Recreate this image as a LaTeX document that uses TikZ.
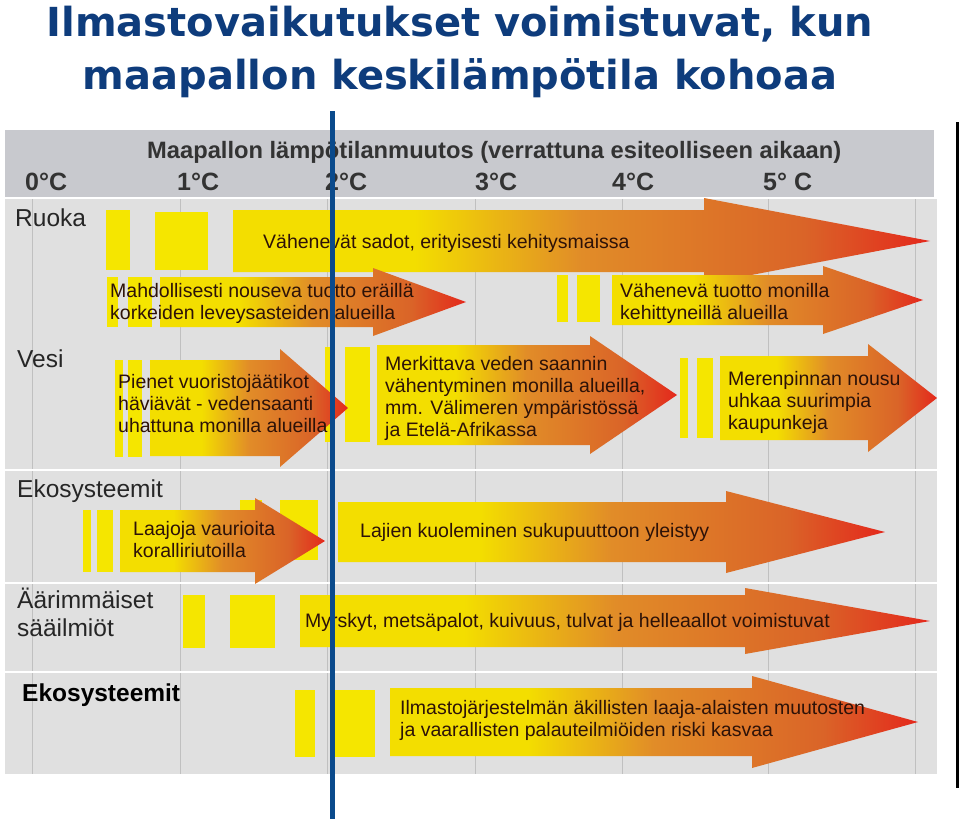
\documentclass[tikz,border=0pt]{standalone}
\usepackage{fontspec}
\setmainfont{Liberation Sans}
\newfontfamily\titlefont{DejaVu Sans}
\usetikzlibrary{positioning}

\definecolor{titleblue}{RGB}{14,60,124}
\definecolor{lineblue}{RGB}{10,74,140}
\definecolor{headgrey}{RGB}{200,201,206}
\definecolor{bodygrey}{RGB}{224,224,224}
\definecolor{gridgrey}{RGB}{192,192,192}
\definecolor{baryellow}{RGB}{245,230,0}
\definecolor{heatY}{RGB}{243,222,0}
\definecolor{heatO}{RGB}{225,140,40}
\definecolor{heatOO}{RGB}{218,100,40}
\definecolor{heatR}{RGB}{228,40,28}
\definecolor{arrowtext}{RGB}{45,18,8}

\pgfdeclarehorizontalshading{heat}{100bp}{color(0bp)=(heatY); color(38bp)=(heatY); color(50bp)=(heatO); color(66bp)=(heatOO); color(75bp)=(heatR); color(100bp)=(heatR)}

% arrow: x start, x head, x tip, y centre, half body, half head
\newcommand{\heatarrow}[6]{%
  \shade[shading=heat] (#1,#4-#5) -- (#2,#4-#5) -- (#2,#4-#6) -- (#3,#4)
    -- (#2,#4+#6) -- (#2,#4+#5) -- (#1,#4+#5) -- cycle;}
\newcommand{\ybar}[4]{\fill[baryellow] (#1,#3) rectangle (#2,#4);}

\begin{document}
\begin{tikzpicture}[x=1bp, y=-1bp,
  lbl/.style={inner sep=0pt, anchor=base west, font=\fontsize{24.5bp}{28bp}\selectfont, text=black!85},
  deg/.style={inner sep=0pt, anchor=base west, font=\fontsize{25bp}{28bp}\selectfont\bfseries, text=black!80},
  txt/.style={inner sep=0pt, anchor=north west, align=left, font=\fontsize{19.5bp}{22bp}\selectfont, text=arrowtext}]
\useasboundingbox (0,0) rectangle (960,819);

\node[font=\titlefont\fontsize{40bp}{48bp}\selectfont\bfseries, text=titleblue, anchor=base, inner sep=0pt] (title1) at (460,37) {Ilmastovaikutukset voimistuvat, kun};
\node[font=\titlefont\fontsize{40bp}{48bp}\selectfont\bfseries, text=titleblue, anchor=base, inner sep=0pt] (title2) at (460,90) {maapallon keskilämpötila kohoaa};

\fill[headgrey] (5,130) rectangle (934,197);
\fill[bodygrey] (5,199) rectangle (937,774);
\foreach \gx in {32,180,327,475,622,768,915}
  \draw[gridgrey, line width=0.7bp] (\gx,199) -- (\gx,774);
\foreach \gy in {470,583,672}
  \draw[white, line width=2bp] (5,\gy) -- (937,\gy);

\node[deg, font=\fontsize{23.7bp}{28bp}\selectfont\bfseries] (head) at (147,158) {Maapallon lämpötilanmuutos (verrattuna esiteolliseen aikaan)};
\node[deg] (t0) at (25,190) {0°C};
\node[deg] (t1) at (177,190) {1°C};
\node[deg] (t2) at (325,190) {2°C};
\node[deg] (t3) at (475,190) {3°C};
\node[deg] (t4) at (612,190) {4°C};
\node[deg] (t5) at (763,190) {5° C};

\node[lbl] (ruoka) at (15,226) {Ruoka};
\node[lbl] (vesi) at (17,367) {Vesi};
\node[lbl] (eko) at (17,497) {Ekosysteemit};
\node[lbl] (saa1) at (17,608) {Äärimmäiset};
\node[lbl] (saa2) at (17,636) {sääilmiöt};
\node[lbl, font=\fontsize{24.5bp}{28bp}\selectfont\bfseries, text=black] (eko2) at (22,701) {Ekosysteemit};

\ybar{106}{130}{210}{270}
\ybar{155}{208}{212}{270}
\ybar{107}{118}{277}{327}
\ybar{128}{152}{277}{327}
\ybar{557}{568}{275}{322}
\ybar{577}{600}{275}{322}
\ybar{115}{123}{360}{457}
\ybar{128}{142}{360}{457}
\ybar{325}{332}{347}{442}
\ybar{345}{370}{347}{442}
\ybar{680}{688}{358}{438}
\ybar{697}{713}{358}{438}
\ybar{83}{91}{510}{572}
\ybar{97}{113}{510}{572}
\ybar{240}{262}{500}{560}
\ybar{280}{318}{500}{560}
\ybar{183}{205}{595}{648}
\ybar{230}{275}{595}{648}
\ybar{295}{315}{690}{757}
\ybar{335}{375}{690}{757}

\heatarrow{233}{704}{930}{241}{31}{43}
\heatarrow{160}{373}{466}{302}{25}{34}
\heatarrow{612}{823}{923}{300}{25}{34}
\heatarrow{150}{280}{348}{408}{48}{59}
\heatarrow{377}{590}{677}{395}{50}{59}
\heatarrow{720}{868}{937}{398}{42}{54}
\heatarrow{120}{255}{325}{541}{31}{43}
\heatarrow{338}{726}{885}{532}{30}{41}
\heatarrow{300}{745}{930}{621}{26}{33}
\heatarrow{390}{752}{918}{722}{34}{46}

\node[txt] (sadot) at (263,234) {Vähenevät sadot, erityisesti kehitysmaissa};
\node[txt] (nouseva) at (110,283) {Mahdollisesti nouseva tuotto eräillä\\korkeiden leveysasteiden alueilla};
\node[txt] (tuotto) at (620,283) {Vähenevä tuotto monilla\\kehittyneillä alueilla};
\node[txt] (jaatikot) at (118,374) {Pienet vuoristojäätikot\\häviävät - vedensaanti\\uhattuna monilla alueilla};
\node[txt] (saanti) at (385,356) {Merkittava veden saannin\\vähentyminen monilla alueilla,\\mm. Välimeren ympäristössä\\ja Etelä-Afrikassa};
\node[txt] (meri) at (728,371) {Merenpinnan nousu\\uhkaa suurimpia\\kaupunkeja};
\node[txt] (koralli) at (133,521) {Laajoja vaurioita\\koralliriutoilla};
\node[txt] (lajit) at (360,523) {Lajien kuoleminen sukupuuttoon yleistyy};
\node[txt] (myrsky) at (305,613) {Myrskyt, metsäpalot, kuivuus, tulvat ja helleaallot voimistuvat};
\node[txt] (muutos) at (400,700) {Ilmastojärjestelmän äkillisten laaja-alaisten muutosten\\ja vaarallisten palauteilmiöiden riski kasvaa};

\coordinate (blueTop) at (332,111);
\coordinate (blueBot) at (332,819);
\coordinate (blackTop) at (957,122);
\coordinate (blackBot) at (957,788);
\draw[lineblue, line width=5bp] (blueTop) -- (blueBot);
\draw[black, line width=3bp] (blackTop) -- (blackBot);
\end{tikzpicture}
\end{document}
